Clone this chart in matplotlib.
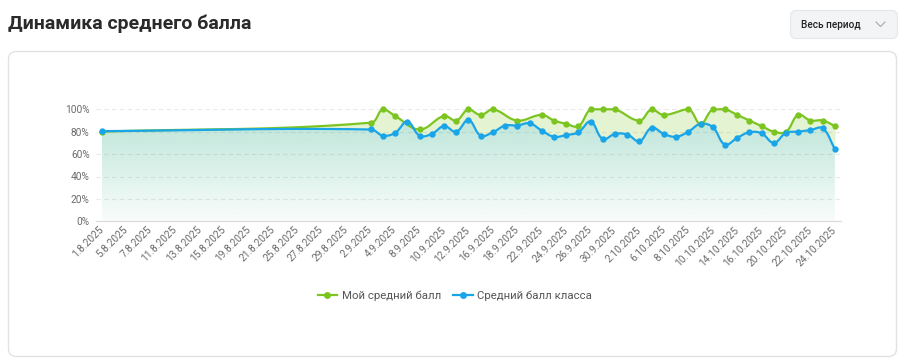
import matplotlib

matplotlib.use("Agg")
import matplotlib.pyplot as plt
import numpy as np
from matplotlib.lines import Line2D
from matplotlib.patches import FancyBboxPatch, Polygon

plt.rcParams["font.family"] = ["Roboto", "DejaVu Sans"]

# category axis: every lesson date, only every second one gets a label
dates = [
    "1.8.2025", "4.8.2025", "5.8.2025", "6.8.2025", "7.8.2025", "8.8.2025",
    "11.8.2025", "12.8.2025", "13.8.2025", "14.8.2025", "15.8.2025", "18.8.2025",
    "19.8.2025", "20.8.2025", "21.8.2025", "22.8.2025", "25.8.2025", "26.8.2025",
    "27.8.2025", "28.8.2025", "29.8.2025", "1.9.2025", "2.9.2025", "3.9.2025",
    "4.9.2025", "5.9.2025", "8.9.2025", "9.9.2025", "10.9.2025", "11.9.2025",
    "12.9.2025", "15.9.2025", "16.9.2025", "17.9.2025", "18.9.2025", "19.9.2025",
    "22.9.2025", "23.9.2025", "24.9.2025", "25.9.2025", "26.9.2025", "29.9.2025",
    "30.9.2025", "1.10.2025", "2.10.2025", "3.10.2025", "6.10.2025", "7.10.2025",
    "8.10.2025", "9.10.2025", "10.10.2025", "13.10.2025", "14.10.2025", "15.10.2025",
    "16.10.2025", "17.10.2025", "20.10.2025", "21.10.2025", "22.10.2025", "23.10.2025",
    "24.10.2025",
]
gap = [None] * 21
my_avg = [80] + gap + [
    88, 100, 94, None, 82, None, 94, 90, 100, 95, 100, None, 90, None,
    95, 90, 87, 85, 100, 100, 100, None, 90, 100, 95, None, 100, 87, 100,
    100, 95, 90, 85, 80, 80, 95, 90, 90, 85,
]
class_avg = [80.5] + gap + [
    82, 76.5, 79, 89, 76.5, 78, 85, 80, 90.5, 76.5, 79.5, 85.5, 85.5, 87.5,
    81, 75.5, 77, 79.5, 89, 73.5, 78, 77.5, 71.5, 83.5, 78, 75.5, 80, 87, 84,
    68.5, 74.5, 79.5, 78.5, 70, 79, 80, 81.5, 83, 64.5,
]
y_ticks = [0, 20, 40, 60, 80, 100]
series_names = ["Мой средний балл", "Средний балл класса"]

GREEN = "#7cc520"
BLUE = "#1aa5e8"
TEAL = (40 / 255, 170 / 255, 130 / 255)
TICK_GRAY = "#6b6b6b"

W, H = 905, 363
fig = plt.figure(figsize=(W / 100, H / 100), dpi=100)
fig.patch.set_facecolor("white")

# pixel-space background layer for card, title and dropdown
bg = fig.add_axes([0, 0, 1, 1])
bg.set_xlim(0, W)
bg.set_ylim(H, 0)
bg.axis("off")
bg.add_patch(FancyBboxPatch((8.5, 51.5), 888, 305,
                            boxstyle="round,pad=0,rounding_size=8",
                            fc="white", ec="#e2e2e2", lw=1))
bg.text(8, 24, "Динамика среднего балла", fontsize=14, fontweight="bold",
        color="#2a2a2a", va="center", ha="left")
bg.add_patch(FancyBboxPatch((790.5, 10.5), 107, 28,
                            boxstyle="round,pad=0,rounding_size=6",
                            fc="#f3f4f6", ec="#e4e6e9", lw=0.8))
bg.text(801, 24.5, "Весь период", fontsize=7.2, fontweight="medium",
        color="#222222", va="center", ha="left")
bg.plot([876, 880.5, 885], [22, 26.5, 22], color="#a8a8a8", lw=0.8)

# plot area: index 0 at x=102px, index 60 at x=835px, 0% at y=221px, 100% at y=109px
n = len(dates)
x_left, x_right = 95.9, 841.0
y_bot, y_top = 221.3, 109.3
ax = fig.add_axes([x_left / W, 1 - y_bot / H, (x_right - x_left) / W, (y_bot - y_top) / H])
ax.set_zorder(1)
ax.patch.set_alpha(0)
ax.set_xlim(-0.5, n - 0.5)
ax.set_ylim(0, 100)
sx = (x_right - x_left) / n
sy = (y_bot - y_top) / 100


def spline(vals, tension=0.4, steps=30):
    """Chart.js style bezier through non-null points (spanGaps), in pixel space."""
    idx = [i for i, v in enumerate(vals) if v is not None]
    P = np.array([[i * sx, vals[i] * sy] for i in idx])
    m = len(P)
    cp_prev = np.zeros_like(P)
    cp_next = np.zeros_like(P)
    for k in range(m):
        p0, p1, p2 = P[max(k - 1, 0)], P[k], P[min(k + 1, m - 1)]
        d01 = np.hypot(*(p1 - p0))
        d12 = np.hypot(*(p2 - p1))
        tot = d01 + d12
        s01 = d01 / tot if tot else 0
        s12 = d12 / tot if tot else 0
        cp_prev[k] = p1 - tension * s01 * (p2 - p0)
        cp_next[k] = p1 + tension * s12 * (p2 - p0)
    for cp in (cp_prev, cp_next):
        cp[:, 0] = np.clip(cp[:, 0], 0, (n - 1) * sx)
        cp[:, 1] = np.clip(cp[:, 1], 0, 100 * sy)
    t = np.linspace(0, 1, steps)[:, None]
    out = [P[:1]]
    for k in range(m - 1):
        a, b, c, d = P[k], cp_next[k], cp_prev[k + 1], P[k + 1]
        seg = (1 - t) ** 3 * a + 3 * (1 - t) ** 2 * t * b + 3 * (1 - t) * t ** 2 * c + t ** 3 * d
        out.append(seg[1:])
    pts = np.vstack(out)
    return pts[:, 0] / sx, pts[:, 1] / sy


gx, gy = spline(my_avg)
bx, by = spline(class_avg)
xx = np.linspace(0, n - 1, 4000)
yg = np.interp(xx, np.maximum.accumulate(gx), gy)
yb = np.interp(xx, np.maximum.accumulate(bx), by)

# light green band between the two lines
ax.fill_between(xx, yb, yg, color=GREEN, alpha=0.2, lw=0, zorder=1)

# class average: vertical teal gradient down to 0%
grad = np.zeros((256, 1, 4))
grad[:, 0, :3] = TEAL
grad[:, 0, 3] = np.linspace(0.03, 0.33, 256)
clip = Polygon(np.column_stack([np.r_[0, bx, n - 1], np.r_[0, by, 0]]),
               closed=True, fc="none", ec="none", transform=ax.transData)
ax.add_patch(clip)
img = ax.imshow(grad, extent=(0, n - 1, 0, 100), origin="lower", aspect="auto",
                interpolation="bilinear", zorder=2)
img.set_clip_path(clip)
ax.set_xlim(-0.5, n - 0.5)
ax.set_ylim(0, 100)

ax.plot(gx, gy, color=GREEN, lw=1.6, zorder=3, clip_on=False)
ax.plot(bx, by, color=BLUE, lw=1.6, zorder=4, clip_on=False)
gi = [i for i, v in enumerate(my_avg) if v is not None]
bi = [i for i, v in enumerate(class_avg) if v is not None]
ax.plot(gi, [my_avg[i] for i in gi], "o", color=GREEN, ms=4.6, mew=0, zorder=5, clip_on=False)
ax.plot(bi, [class_avg[i] for i in bi], "o", color=BLUE, ms=4.6, mew=0, zorder=6, clip_on=False)

ax.set_yticks(y_ticks)
ax.set_yticklabels([f"{v}%" for v in y_ticks])
ax.set_xticks(range(0, n, 2))
ax.set_xticklabels(dates[::2], rotation=45, ha="right", va="center", rotation_mode="anchor")
ax.tick_params(axis="both", length=0, labelsize=7.3, labelcolor=TICK_GRAY)
ax.tick_params(axis="x", pad=5)
ax.tick_params(axis="y", pad=4.5)
ax.set_axisbelow(True)
ax.yaxis.grid(True, color="#e9e9e9", linestyle=(0, (4, 3)), lw=0.8)
ax.xaxis.grid(False)
for side in ("left", "right", "top"):
    ax.spines[side].set_visible(False)
ax.spines["bottom"].set_color("#dddddd")
ax.spines["bottom"].set_linewidth(0.9)

handles = [Line2D([], [], color=c, lw=1.6, marker="o", ms=5, mew=0) for c in (GREEN, BLUE)]
ax.legend(handles, series_names, loc="center", bbox_to_anchor=(455 / W, 1 - 296 / H),
          bbox_transform=fig.transFigure, ncol=2, frameon=False, fontsize=8.2,
          labelcolor="#555555", handlelength=1.7, handletextpad=0.4, columnspacing=1.1)

fig.savefig("out.png", dpi=100, facecolor="white")
